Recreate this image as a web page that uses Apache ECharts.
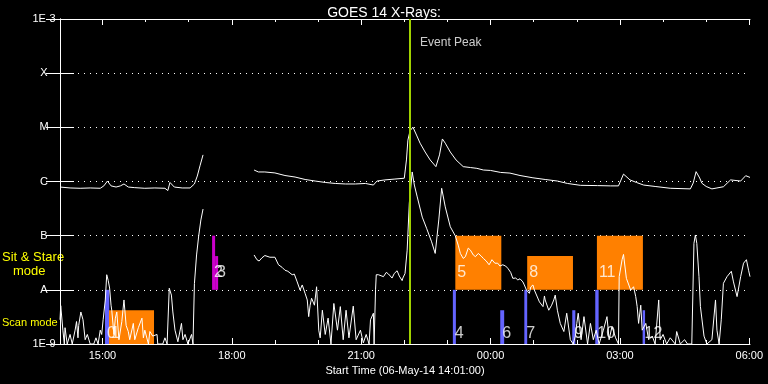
<!DOCTYPE html>
<html><head><meta charset="utf-8">
<script src="https://cdn.jsdelivr.net/npm/echarts@6/dist/echarts.min.js"></script>
<style>html,body{margin:0;padding:0;background:#000}#c{width:768px;height:384px}</style>
</head><body><div id="c"></div>
<script>
// ---- data (time = minutes after start 06-May-14 14:01:00, flux in W/m^2) ----
const chartTitle = 'GOES 14 X-Rays:';
const xAxisTitle = 'Start Time (06-May-14 14:01:00)';
const startMinuteOfDay = 14 * 60 + 1;
const timeMax = 960;
const majorTickTimes = [59, 239, 419, 599, 779, 959];
const minorTickTimes = [59, 119, 179, 239, 299, 359, 419, 479, 539, 599, 659, 719, 779, 839, 899, 959];
const fluxMin = 1e-9, fluxMax = 1e-3;
const yTickLabels = { '-9': '1E-9', '-8': 'A', '-7': 'B', '-6': 'C', '-5': 'M', '-4': 'X', '-3': '1E-3' };

const longChannel = [
[0,7.9e-7],[14,7.6e-7],[28,7.5e-7],[42,7.6e-7],[56,7.5e-7],[61,8.3e-7],[66,1.02e-6],[71,8.3e-7],[78,7.9e-7],[84,8.3e-7],
[89,9.0e-7],[95,7.9e-7],[104,7.7e-7],[118,7.5e-7],[132,7.6e-7],[146,7.5e-7],[150,6.8e-7],[153,9.6e-7],[159,7.9e-7],[170,7.6e-7],
[181,7.6e-7],[187,9.0e-7],[191,1.26e-6],[195,2.0e-6],[199,3.1e-6],[200,null],
[270,1.63e-6],[276,1.5e-6],[285,1.5e-6],[299,1.44e-6],[313,1.29e-6],[327,1.21e-6],[341,1.09e-6],[355,1.02e-6],[369,9.6e-7],
[383,9.2e-7],[397,9.0e-7],[411,9.0e-7],[425,9.2e-7],[436,8.6e-7],[441,1.02e-6],[452,1.07e-6],[466,1.11e-6],[479,1.15e-6],
[482,2.5e-6],[484,5.8e-6],[487,8.6e-6],[491,1.01e-5],[496,7.2e-6],[501,5.1e-6],[508,3.5e-6],[515,2.5e-6],[523,1.88e-6],
[528,3.1e-6],[532,6.1e-6],[536,5.1e-6],[543,3.5e-6],[551,2.5e-6],[561,1.88e-6],[571,1.81e-6],[580,1.75e-6],[589,1.63e-6],
[599,1.6e-6],[613,1.47e-6],[626,1.43e-6],[640,1.29e-6],[658,1.17e-6],[675,1.09e-6],[692,1.02e-6],[706,9.2e-7],[724,8.5e-7],
[748,8.4e-7],[766,8.3e-7],[777,8.3e-7],[784,1.37e-6],[793,1.07e-6],[802,9.6e-7],[812,8.6e-7],[828,8.1e-7],[849,7.5e-7],
[877,7.3e-7],[881,9.4e-7],[885,1.52e-6],[890,1.16e-6],[893,9.3e-7],[899,8.1e-7],[907,7.3e-7],[914,7.6e-7],[923,8.0e-7],
[933,1.07e-6],[947,1.02e-6],[954,1.28e-6],[960,1.19e-6]
];

const shortChannel = [
[0,2.8e-9],[1,5.1e-9],[4,1.8e-9],[6,1e-9],[7,2.0e-9],[10,1e-9],[14,1.5e-9],[17,1e-9],[21,1.8e-9],[23,2.6e-9],[25,1.3e-9],
[26,2.2e-9],[29,3.9e-9],[32,2.8e-9],[35,1.2e-9],[38,1.5e-9],[42,1e-9],[47,1e-9],[50,1.3e-9],[53,1e-9],[56,1.8e-9],[58,1.5e-9],
[60,2.8e-9],[63,6.5e-9],[65,1.9e-8],[67,1.5e-8],[69,1.08e-8],[71,5.2e-9],[72,4.2e-9],[75,1.5e-9],[77,3.0e-9],[79,3.9e-9],
[82,1.2e-9],[86,2.6e-9],[89,6.5e-9],[92,2.2e-9],[95,1.7e-9],[97,1.2e-9],[102,2.4e-9],[104,1.2e-9],[109,2.0e-9],[114,3.0e-9],
[116,1.3e-9],[118,1.8e-9],[123,1e-9],[125,1.7e-9],[129,1.4e-9],[135,1.5e-9],[136,1e-9],[143,1e-9],[146,1.3e-9],[149,1e-9],
[152,1.07e-8],[155,8.0e-9],[157,3.9e-9],[160,1.8e-9],[164,1.1e-9],[169,2.4e-9],[171,1.2e-9],[174,1.5e-9],[178,1e-9],
[183,1.5e-9],[185,1e-9],[187,1.3e-8],[190,4.4e-8],[193,1.0e-7],[196,1.95e-7],[199,3.1e-7],[200,null],
[270,4.4e-8],[274,3.6e-8],[277,3.4e-8],[281,3.9e-8],[285,4.3e-8],[292,4.0e-8],[299,4.0e-8],[304,2.9e-8],[309,2.6e-8],
[313,2.3e-8],[317,2.2e-8],[323,1.9e-8],[326,1.95e-8],[330,1.4e-8],[334,9.9e-9],[337,1.23e-8],[341,8.6e-9],[344,6.5e-9],
[346,3.2e-9],[348,5.2e-9],[350,7.0e-9],[354,5.2e-9],[357,1.14e-8],[360,1.8e-9],[362,1.3e-9],[365,4.2e-9],[369,1.5e-9],
[373,3.0e-9],[377,1e-9],[381,5.6e-9],[386,1.8e-9],[390,4.9e-9],[394,1.2e-9],[398,4.2e-9],[402,1.3e-9],[408,5.0e-9],
[412,1.2e-9],[418,1.8e-9],[422,1.05e-9],[426,1.5e-9],[430,1e-9],[432,2.8e-9],[436,3.7e-9],[437,1e-9],[439,1e-8],[440,1.9e-8],
[443,1.9e-8],[450,1.75e-8],[454,2.1e-8],[457,1.96e-8],[462,1.65e-8],[465,2.0e-8],[469,2.25e-8],[472,1.8e-8],[476,1.48e-8],
[477,1.65e-8],[480,2.0e-8],[483,5.4e-8],[486,4.0e-7],[490,1.5e-6],[493,8.6e-7],[497,5.2e-7],[504,2.2e-7],[510,1.37e-7],
[517,7.7e-8],[522,4.7e-8],[527,1.95e-7],[531,7.5e-7],[536,3.4e-7],[543,1.46e-7],[550,9.9e-8],[554,6.7e-8],[557,4.7e-8],
[561,3.8e-8],[564,4.1e-8],[568,5.9e-8],[571,5.4e-8],[575,4.4e-8],[578,4.1e-8],[582,4.7e-8],[586,4.2e-8],[589,3.8e-8],
[593,3.4e-8],[597,2.9e-8],[601,3.6e-8],[605,3.1e-8],[609,3.1e-8],[612,2.75e-8],[616,2.9e-8],[620,2.75e-8],[623,2.5e-8],
[627,2.1e-8],[630,1.63e-8],[634,1.65e-8],[637,1.52e-8],[640,1.6e-8],[644,1.4e-8],[646,1.23e-8],[649,9.9e-9],[653,8.6e-9],
[655,1.13e-8],[658,1.23e-8],[660,9.9e-9],[662,9.2e-9],[667,6.0e-9],[672,4.9e-9],[674,7.7e-9],[675,6.5e-9],[680,4.2e-9],
[684,5.2e-9],[687,6.5e-9],[689,8.0e-9],[692,4.2e-9],[696,2.4e-9],[701,1.7e-9],[705,3.7e-9],[710,1.2e-9],[714,1e-9],
[717,1.4e-9],[719,2.4e-9],[721,3.7e-9],[725,1.2e-9],[729,3.2e-9],[734,1e-9],[738,2.4e-9],[742,1.2e-9],[746,1.8e-9],
[750,1e-9],[756,1.8e-9],[761,3.2e-9],[764,1.2e-9],[768,2.1e-9],[773,1.3e-9],[777,1e-9],[778,1.75e-8],[782,3.6e-8],
[784,4.5e-8],[788,1.63e-8],[790,1.52e-8],[794,9.9e-9],[798,1.14e-8],[801,7.5e-9],[803,4.9e-9],[805,2.4e-9],[808,5.2e-9],
[810,1.8e-9],[815,2.4e-9],[819,1.2e-9],[824,1.4e-9],[828,1e-9],[833,6.5e-9],[835,1.2e-9],[839,1.5e-9],[844,1e-9],
[849,1.3e-9],[856,1e-9],[858,1.7e-9],[863,1e-9],[869,1.2e-9],[873,1e-9],[879,1e-9],[882,7.2e-8],[884,1.03e-7],[886,7.2e-8],
[889,1.75e-8],[891,4.9e-9],[896,1.4e-9],[900,1e-9],[907,1.2e-9],[912,6.5e-9],[914,1.8e-9],[917,1e-9],[920,2.8e-9],
[923,1.32e-8],[928,1.75e-8],[934,2.2e-8],[937,1.4e-8],[942,7.5e-9],[947,1.75e-8],[951,3.1e-8],[955,3.6e-8],[958,2.3e-8],
[960,1.75e-8]
];

// observation events
const eventNames = ['0', '1', '2', '3', '4', '5', '6', '7', '8', '9', '10', '11', '12'];
const eventStart = [62.6, 68.2, 211.6, 215.8, 546.6, 550, 612.5, 646, 650, 712.7, 744.7, 747, 810.6];
const eventEnd   = [68.6, 130.8, 215.8, 220, 550.8, 614, 618, 650, 713.7, 717, 749.4, 811, 814];
const eventLow   = [1e-9, 1e-9, 1e-8, 1e-8, 1e-9, 1e-8, 1e-9, 1e-9, 1e-8, 1e-9, 1e-9, 1e-8, 1e-9];
const eventHigh  = [1e-8, 4.2e-9, 1e-7, 4.2e-8, 1e-8, 1e-7, 4.2e-9, 1e-8, 4.2e-8, 4.2e-9, 1e-8, 1e-7, 4.2e-9];
const eventKind  = ['short', 'long', 'alt', 'alt', 'short', 'long', 'short', 'short', 'long', 'short', 'short', 'long', 'short'];
const eventPeakTime = 487;
const eventPeakText = 'Event Peak';
const stareLabelFlux = 2.1e-8, scanLabelFlux = 1.53e-9, peakLabelFlux = 3.6e-4;

// ---- styles ----
const kindColor = { short: '#6464ff', long: '#ff8000', alt: '#cc00cc' };
const FONT = 'Liberation Sans';

function fmtTime(v) {
  const tot = startMinuteOfDay + Math.round(v);
  const h = Math.floor(tot / 60) % 24, m = tot % 60;
  return String(h).padStart(2, '0') + ':' + String(m).padStart(2, '0');
}

const rectData = eventNames.map((n, i) => ({
  value: [eventStart[i], eventEnd[i], eventLow[i], eventHigh[i]],
  itemStyle: { color: kindColor[eventKind[i]] }
}));
const labelData = eventNames.map((n, i) => ({
  name: n,
  value: [eventStart[i], eventLow[i] >= 1e-8 ? stareLabelFlux : scanLabelFlux]
}));

function xAx(pos, ticks, len, showLine, showLabel) {
  return {
    type: 'value', position: pos, min: 0, max: timeMax,
    axisLine: { show: showLine, onZero: false, lineStyle: { color: '#fff', width: 1 } },
    axisTick: { show: true, inside: true, length: len, customValues: ticks, lineStyle: { color: '#fff', width: 1 } },
    axisLabel: showLabel ? { show: true, customValues: majorTickTimes, formatter: fmtTime, color: '#fff', fontSize: 11, fontFamily: FONT, margin: 6 } : { show: false },
    splitLine: { show: false },
    name: showLabel ? xAxisTitle : '', nameLocation: 'middle', nameGap: 18,
    nameTextStyle: { color: '#fff', fontSize: 11, fontFamily: FONT }
  };
}
function yAx(pos, main) {
  return {
    type: 'log', logBase: 10, position: pos, min: fluxMin, max: fluxMax,
    axisLine: { show: true, lineStyle: { color: '#fff', width: 1 } },
    axisTick: { show: true, inside: true, length: 14, lineStyle: { color: '#fff', width: 1 } },
    axisLabel: main ? {
      show: true, color: '#fff', fontSize: 11, fontFamily: FONT, align: 'center', margin: 16,
      formatter: v => yTickLabels[String(Math.round(Math.log10(v)))] || ''
    } : { show: false },
    splitLine: main ? { show: true, lineStyle: { color: '#fff', type: [1, 5], width: 1 } } : { show: false },
    minorTick: { show: false }
  };
}

const chart = echarts.init(document.getElementById('c'));
chart.setOption({
  animation: false,
  backgroundColor: '#000',
  title: { text: chartTitle, left: 'center', top: 1, textStyle: { color: '#fff', fontSize: 14, fontWeight: 'normal', fontFamily: FONT } },
  grid: { left: 60, right: 18, top: 19, bottom: 40, containLabel: false, outerBoundsMode: 'none' },
  xAxis: [
    xAx('bottom', majorTickTimes, 6, true, true),
    xAx('bottom', minorTickTimes, 4, false, false),
    xAx('top', majorTickTimes, 6, true, false),
    xAx('top', minorTickTimes, 3, false, false)
  ],
  yAxis: [yAx('left', true), yAx('right', false)],
  graphic: [
    { type: 'text', left: 2, top: 251, style: { text: 'Sit & Stare', fill: '#ffff00', fontSize: 13, fontFamily: FONT } },
    { type: 'text', left: 13, top: 265, style: { text: 'mode', fill: '#ffff00', fontSize: 13, fontFamily: FONT } },
    { type: 'text', left: 2, top: 317, style: { text: 'Scan mode', fill: '#ffff00', fontSize: 11, fontFamily: FONT } }
  ],
  series: [
    {
      type: 'custom', xAxisIndex: 0, yAxisIndex: 0, z: 1,
      encode: { x: [0, 1], y: [2, 3] },
      renderItem: (params, api) => {
        const p0 = api.coord([api.value(0), api.value(3)]);
        const p1 = api.coord([api.value(1), api.value(2)]);
        return { type: 'rect', shape: { x: p0[0], y: p0[1], width: p1[0] - p0[0], height: p1[1] - p0[1] }, style: { fill: api.visual('color') } };
      },
      data: rectData
    },
    {
      type: 'line', name: 'long', z: 2, data: longChannel, showSymbol: false, symbol: 'none', connectNulls: false,
      lineStyle: { color: '#fff', width: 1 }, itemStyle: { color: '#fff' }
    },
    {
      type: 'line', name: 'short', z: 2, data: shortChannel, showSymbol: false, symbol: 'none', connectNulls: false,
      lineStyle: { color: '#fff', width: 1 }, itemStyle: { color: '#fff' },
      markLine: {
        silent: true, symbol: 'none', label: { show: false },
        lineStyle: { color: '#a0d200', width: 2, type: 'solid', opacity: 1 },
        data: [{ xAxis: eventPeakTime }]
      }
    },
    {
      type: 'scatter', z: 5, symbolSize: 0, data: labelData,
      label: { show: true, position: 'right', distance: 2, formatter: '{b}', color: '#fff', fontSize: 16, fontFamily: FONT }
    },
    {
      type: 'scatter', z: 5, symbolSize: 0, data: [{ name: eventPeakText, value: [eventPeakTime, peakLabelFlux] }],
      label: { show: true, position: 'right', distance: 10, formatter: '{b}', color: '#fff', fontSize: 12, fontFamily: FONT }
    }
  ]
});
</script></body></html>
